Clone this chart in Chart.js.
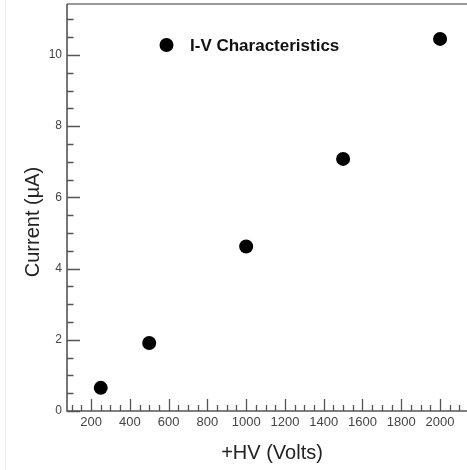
<!DOCTYPE html>
<html><head><meta charset="utf-8">
<script src="https://cdn.jsdelivr.net/npm/chart.js@4.4.1/dist/chart.umd.min.js"></script>
<style>html,body{margin:0;padding:0;background:#fff;overflow:hidden}</style>
</head><body>
<canvas id="c" width="467" height="470"></canvas>
<script>
const voltages = [250, 500, 1000, 1500, 2000];
const currents = [0.65, 1.91, 4.62, 7.08, 10.45];
const seriesLabel = 'I-V Characteristics';
const xTitle = '+HV (Volts)';
const yTitle = 'Current (µA)';
const xRange = [76, 2139];
const yRange = [0, 11.43];
const xMajorStep = 200, xMinorStep = 50;
const yMajorStep = 2, yMinorStep = 0.5;

const FONT = '"Liberation Sans", Arial, Helvetica, sans-serif';

const framePlugin = {
  id: 'frame',
  beforeDatasetsDraw(chart) {
    const ctx = chart.ctx, a = chart.chartArea;
    const xs = chart.scales.x, ys = chart.scales.y;
    ctx.save();
    ctx.strokeStyle = '#ececec'; ctx.lineWidth = 1;
    ctx.beginPath(); ctx.moveTo(5.5, 0); ctx.lineTo(5.5, 470); ctx.stroke();
    ctx.strokeStyle = '#999'; ctx.lineWidth = 2;
    ctx.beginPath(); ctx.moveTo(a.left, a.top); ctx.lineTo(a.right, a.top); ctx.stroke();
    ctx.strokeStyle = '#555'; ctx.lineWidth = 1.6;
    ctx.beginPath();
    ctx.moveTo(a.left, a.top); ctx.lineTo(a.left, a.bottom); ctx.lineTo(a.right, a.bottom);
    ctx.stroke();
    ctx.lineWidth = 1.3; ctx.strokeStyle = '#555';
    ctx.beginPath();
    for (let v = Math.ceil(xs.min / xMinorStep) * xMinorStep; v <= xs.max; v += xMinorStep) {
      const p = Math.round(xs.getPixelForValue(v)) + 0.5;
      const len = (v % xMajorStep === 0) ? 12 : 6;
      ctx.moveTo(p, a.bottom); ctx.lineTo(p, a.bottom - len);
    }
    for (let v = Math.ceil(ys.min / yMinorStep) * yMinorStep; v <= ys.max + 1e-9; v += yMinorStep) {
      const p = Math.round(ys.getPixelForValue(v)) + 0.5;
      const len = (Math.abs(v % yMajorStep) < 1e-9) ? 13 : 6.5;
      ctx.moveTo(a.left, p); ctx.lineTo(a.left + len, p);
    }
    ctx.stroke();
    ctx.restore();
  },
  afterDraw(chart) {
    const ctx = chart.ctx;
    ctx.save();
    ctx.fillStyle = '#222';
    ctx.font = '20px ' + FONT;
    ctx.textAlign = 'center'; ctx.textBaseline = 'middle';
    ctx.fillText(xTitle, 272, 453);
    ctx.translate(33, 222); ctx.rotate(-Math.PI / 2);
    ctx.fillText(yTitle, 0, 0);
    ctx.setTransform(1, 0, 0, 1, 0, 0);
    const ds = chart.data.datasets[0];
    ctx.fillStyle = ds.backgroundColor;
    ctx.beginPath(); ctx.arc(166.5, 45, 7, 0, Math.PI * 2); ctx.fill();
    ctx.fillStyle = '#111';
    ctx.font = 'bold 17px ' + FONT;
    ctx.textAlign = 'left'; ctx.textBaseline = 'middle';
    ctx.fillText(ds.label, 190, 46);
    ctx.restore();
  }
};

function zeroPad(s) { s.paddingTop = 0; s.paddingBottom = 0; s.paddingLeft = 0; s.paddingRight = 0; }

new Chart(document.getElementById('c'), {
  type: 'scatter',
  data: {
    datasets: [{
      label: seriesLabel,
      data: voltages.map((v, i) => ({ x: v, y: currents[i] })),
      backgroundColor: '#000',
      borderColor: '#000',
      pointRadius: 7,
      pointHoverRadius: 7,
      borderWidth: 0,
      clip: false
    }]
  },
  options: {
    responsive: false,
    animation: false,
    events: [],
    layout: { autoPadding: false, padding: { top: 4, left: 0, right: 0, bottom: 0 } },
    plugins: { legend: { display: false }, tooltip: { enabled: false } },
    scales: {
      x: {
        type: 'linear', min: xRange[0], max: xRange[1],
        grid: { display: false, drawTicks: false },
        border: { display: false },
        ticks: { stepSize: xMajorStep, includeBounds: false, autoSkip: false, maxRotation: 0,
                 color: '#444', font: { family: FONT, size: 13 }, padding: 4,
                 callback: v => String(v) },
        afterFit(s) { s.height = 59; zeroPad(s); }
      },
      y: {
        type: 'linear', min: yRange[0], max: yRange[1],
        grid: { display: false, drawTicks: false },
        border: { display: false },
        ticks: { stepSize: yMajorStep, includeBounds: false, autoSkip: false,
                 color: '#444', font: { family: FONT, size: 12 }, padding: 5,
                 callback: v => String(v) },
        afterFit(s) { s.width = 67; zeroPad(s); }
      }
    }
  },
  plugins: [framePlugin]
});
</script>
</body></html>
